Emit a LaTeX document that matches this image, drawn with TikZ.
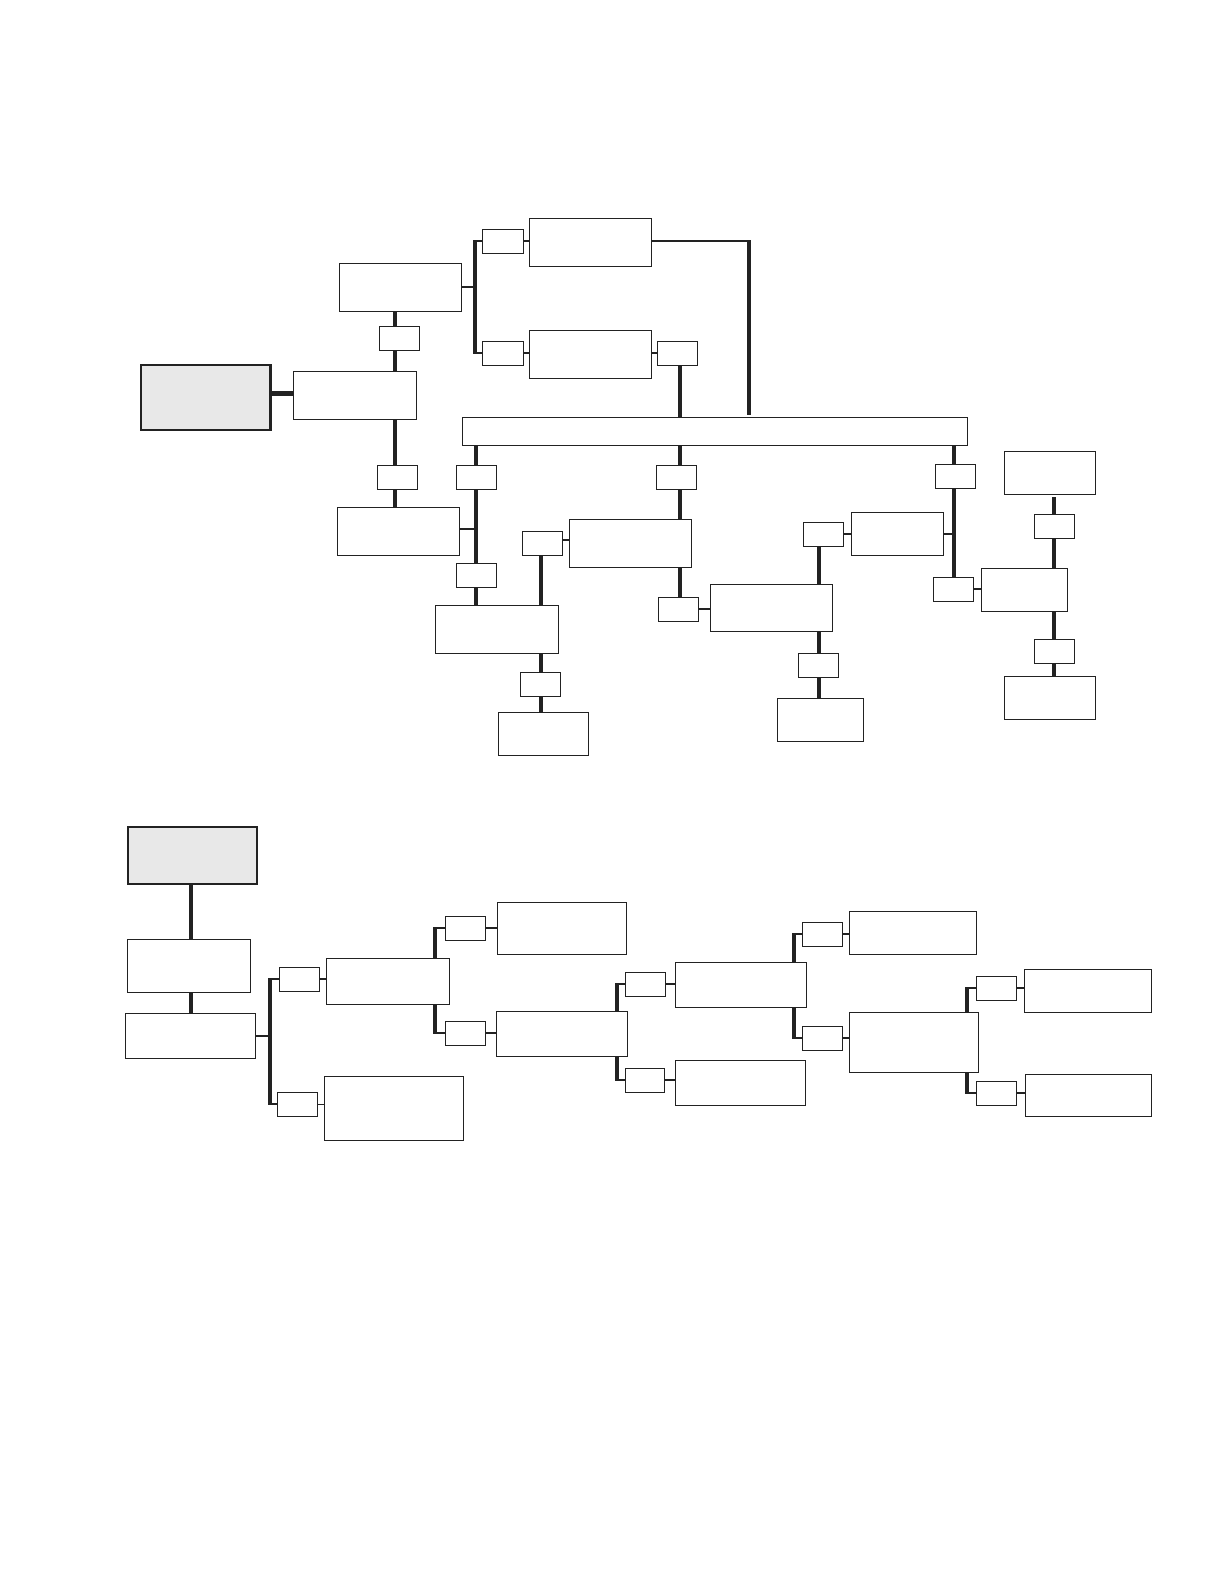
\documentclass[tikz,border=0pt]{standalone}
\usetikzlibrary{backgrounds}
\definecolor{ink}{HTML}{222222}
\definecolor{shade}{HTML}{E8E8E8}
\newcommand{\bx}[6][]{\node[bxs,#1,minimum width={(#4-#2)*1pt},minimum height={(#5-#3)*1pt}] (#6) at ({(#2+#4)/2},{(#3+#5)/2}) {};}
\newcommand{\fork}[4]{%
  \draw[thk,shorten >=-1.1pt] (#1.north -| #2) -- (#2 |- #3.west);
  \draw[med] (#2 |- #3.west) -- (#3.west);
  \draw[thk,shorten >=-1.1pt] (#1.south -| #2) -- (#2 |- #4.west);
  \draw[med] (#2 |- #4.west) -- (#4.west);}
\begin{document}
\begin{tikzpicture}[x=1pt,y=-1pt,
  bxs/.style={draw=ink,line width=1pt,fill=white,inner sep=0pt,outer sep=0pt},
  rootbox/.style={fill=shade,line width=2.2pt},
  thk/.style={draw=ink,line width=4pt},
  heavy/.style={draw=ink,line width=5.5pt},
  med/.style={draw=ink,line width=2.2pt},
  thn/.style={draw=ink,line width=1.3pt}]
\path[use as bounding box] (0,0) rectangle (1224,1584);
% ---------- top diagram ----------
\bx[rootbox]{140.7}{365.3}{270.4}{430}{root1}
\bx{293.2}{371.3}{416.4}{419.3}{nA}
\bx{339.3}{263.3}{461.4}{311.3}{nB}
\bx{379.3}{326.3}{419.3}{350.3}{s1}
\bx{482.9}{229.3}{523.6}{253.3}{s2}
\bx{529.3}{218.3}{651.8}{266.3}{nC}
\bx{482.9}{341.3}{523.6}{365.3}{s3}
\bx{529.3}{330.3}{651.8}{378.3}{nD}
\bx{657.3}{341.3}{697.3}{365.3}{s4}
\bx{462.1}{417.3}{967.7}{445.7}{bar}
\bx{377.3}{465.3}{417.3}{489.3}{s5}
\bx{337.3}{507.3}{459.3}{555.3}{nE}
\bx{456.3}{465.3}{496.3}{489.3}{s6}
\bx{456.3}{563.3}{496.3}{587.3}{s7}
\bx{435.3}{605.3}{558.7}{653.3}{nF}
\bx{522.3}{531.3}{562.3}{555.3}{s8}
\bx{569.3}{519.3}{691.3}{567.3}{nG}
\bx{656.3}{465.3}{696.3}{489.3}{s9}
\bx{658.3}{597.3}{698.3}{621.3}{s10}
\bx{710.3}{584.3}{832.7}{631.3}{nH}
\bx{520.3}{672.3}{560.3}{696.3}{s11}
\bx{498.3}{712.3}{588.7}{755.3}{nI}
\bx{935.3}{464.3}{975.3}{488.3}{s12}
\bx{851.3}{512.3}{943.3}{555.3}{nJ}
\bx{803.3}{522.3}{843.3}{546.3}{s13}
\bx{798.3}{653.3}{838.3}{677.3}{s15}
\bx{777.3}{698.3}{863.3}{741.3}{nK}
\bx{933.3}{577.3}{973.3}{601.3}{s14}
\bx{981.3}{568.3}{1067.3}{611.3}{nL}
\bx{1004.3}{451.3}{1095.3}{494.3}{nM}
\bx{1034.3}{514.3}{1074.3}{538.3}{s16}
\bx{1034.3}{639.3}{1074.3}{663.3}{s17}
\bx{1004.3}{676.3}{1095.3}{719.3}{nN}
% ---------- bottom diagram ----------
\bx[rootbox]{128.3}{827.3}{257}{884}{root2}
\bx{127.3}{939.3}{250.3}{992.3}{nP}
\bx{125.3}{1013.3}{255.3}{1058.3}{nQ}
\bx{279.3}{967.3}{319.3}{991.3}{s21}
\bx{326.3}{958.3}{449.3}{1004.3}{nR}
\bx{277.3}{1092.3}{317.3}{1116.3}{s22}
\bx{324.3}{1076.3}{463.3}{1140.3}{nS}
\bx{445.3}{916.3}{485.3}{940.3}{s23}
\bx{497.3}{902.3}{626.3}{954.3}{nT}
\bx{445.3}{1021.3}{485.3}{1045.3}{s24}
\bx{496.3}{1011.3}{627.3}{1056.3}{nU}
\bx{625.4}{972.3}{665.7}{996.3}{s25}
\bx{675.4}{962.3}{806.4}{1007.3}{nV}
\bx{625.4}{1068.3}{664.6}{1092.3}{s26}
\bx{675.4}{1060.3}{805.7}{1105.3}{nW}
\bx{802.1}{922.3}{842.5}{946.3}{s27}
\bx{849.3}{911.3}{976.4}{954.3}{nX}
\bx{802.1}{1026.3}{842.5}{1050.3}{s28}
\bx{849.3}{1012.3}{978.6}{1072.3}{nY}
\bx{976.4}{976.3}{1016.4}{1000.3}{s29}
\bx{1024.3}{969.3}{1151.4}{1012.3}{nZa}
\bx{976.4}{1081.3}{1016.4}{1105.3}{s30}
\bx{1025.4}{1074.3}{1151.4}{1116.3}{nZb}
% ---------- connectors ----------
\begin{pgfonlayer}{background}
\coordinate (ya) at (0,393.3);
\coordinate (yb) at (0,286.7);
\coordinate (yc) at (0,414.7);
\coordinate (ye) at (0,529);
\coordinate (yg) at (0,540);
\coordinate (ym) at (0,497);
\coordinate (xa) at (395.4,0);
\coordinate (bk1) at (475,0);
\coordinate (xc) at (749,0);
\coordinate (xb1) at (475.7,0);
\coordinate (xb2) at (680,0);
\coordinate (xb3) at (954,0);
\coordinate (xf) at (540.7,0);
\coordinate (xh) at (819.3,0);
\coordinate (xm) at (1054,0);
\draw[heavy] (root1.east |- ya) -- (nA.west |- ya);
\draw[thk] (nB.south -| xa) -- (nA.north -| xa);
\draw[thk] (nA.south -| xa) -- (nE.north -| xa);
\draw[med] (nB.east |- yb) -- (bk1 |- yb);
\draw[thk,shorten <=-1.1pt,shorten >=-1.1pt] (bk1 |- s2.west) -- (bk1 |- s3.west);
\draw[med] (bk1 |- s2.west) -- (s2.west);
\draw[med] (bk1 |- s3.west) -- (s3.west);
\draw[med] (s2.east) -- (nC.west |- s2.east);
\draw[med] (s3.east) -- (nD.west |- s3.east);
\draw[med] (nD.east |- s4.west) -- (s4.west);
\draw[thk] (s4.south -| xb2) -- (bar.north -| xb2);
\draw[med] (nC.east |- s2.east) -- (xc |- s2.east);
\draw[thk,shorten <=-1.1pt] (xc |- s2.east) -- (xc |- yc);
\draw[thk] (bar.south -| xb1) -- (nF.north -| xb1);
\draw[med] (nE.east |- ye) -- (xb1 |- ye);
\draw[thk] (bar.south -| xb2) -- (nG.north -| xb2);
\draw[thk] (nG.south -| xb2) -- (s10.north -| xb2);
\draw[med] (s10.east) -- (nH.west |- s10.east);
\draw[thk] (s8.south -| xf) -- (nF.north -| xf);
\draw[thn] (s8.east |- yg) -- (nG.west |- yg);
\draw[thk] (nF.south -| xf) -- (nI.north -| xf);
\draw[thk] (bar.south -| xb3) -- (s14.north -| xb3);
\draw[med] (nJ.east) -- (xb3 |- nJ.east);
\draw[med] (s13.east) -- (nJ.west |- s13.east);
\draw[med] (s14.east) -- (nL.west |- s14.east);
\draw[thk] (s13.south -| xh) -- (nH.north -| xh);
\draw[thk] (nH.south -| xh) -- (nK.north -| xh);
\draw[thk] (xm |- ym) -- (nL.north -| xm);
\draw[thk] (nL.south -| xm) -- (nN.north -| xm);
% bottom
\coordinate (xp) at (190.7,0);
\coordinate (bq) at (270,0);
\coordinate (br) at (435,0);
\coordinate (bu) at (616.8,0);
\coordinate (bv) at (793.9,0);
\coordinate (by) at (966.8,0);
\draw[thk] (root2.south -| xp) -- (nP.north -| xp);
\draw[thk] (nP.south -| xp) -- (nQ.north -| xp);
\draw[med] (nQ.east) -- (bq |- nQ.east);
\draw[thk,shorten <=-1.1pt,shorten >=-1.1pt] (bq |- s21.west) -- (bq |- s22.west);
\draw[med] (bq |- s21.west) -- (s21.west);
\draw[med] (bq |- s22.west) -- (s22.west);
\draw[med] (s21.east) -- (nR.west |- s21.east);
\draw[thn] (s22.east) -- (nS.west |- s22.east);
\fork{nR}{br}{s23}{s24}
\draw[med] (s23.east) -- (nT.west |- s23.east);
\draw[med] (s24.east) -- (nU.west |- s24.east);
\fork{nU}{bu}{s25}{s26}
\draw[med] (s25.east) -- (nV.west |- s25.east);
\draw[med] (s26.east) -- (nW.west |- s26.east);
\fork{nV}{bv}{s27}{s28}
\draw[med] (s27.east) -- (nX.west |- s27.east);
\draw[med] (s28.east) -- (nY.west |- s28.east);
\fork{nY}{by}{s29}{s30}
\draw[med] (s29.east) -- (nZa.west |- s29.east);
\draw[med] (s30.east) -- (nZb.west |- s30.east);
\end{pgfonlayer}
\end{tikzpicture}
\end{document}
